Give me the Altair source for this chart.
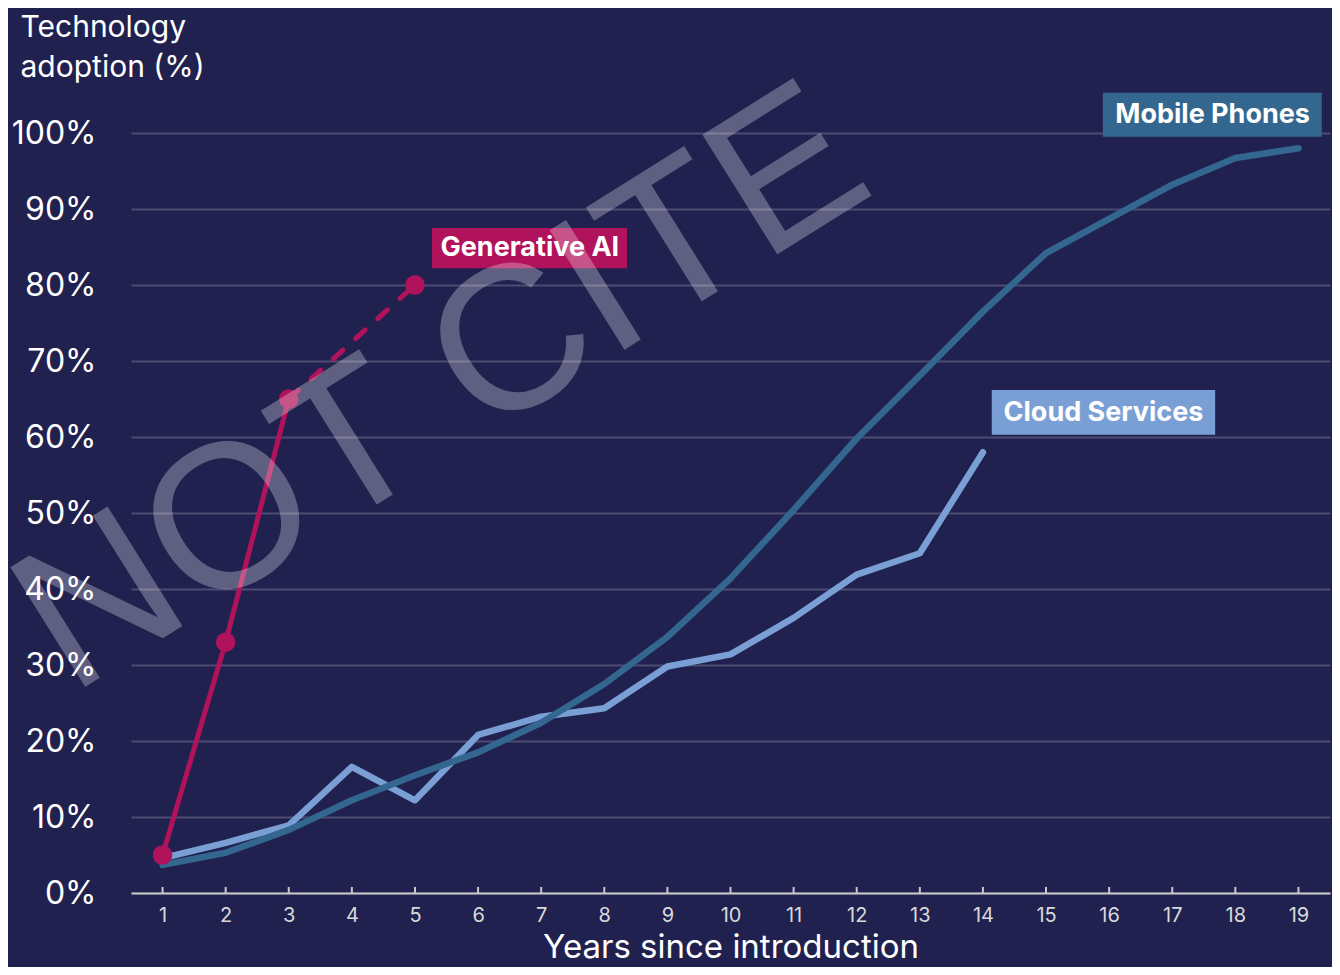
import altair as alt
import pandas as pd

# ---- data ----
years = list(range(1, 20))
mobile_phones = [3.7, 5.3, 8.3, 12.2, 15.5, 18.5, 22.4, 27.5, 33.7, 41.4,
                 50.4, 59.8, 68.1, 76.5, 84.2, 88.7, 93.2, 96.7, 98.0]
cloud_years = list(range(1, 15))
cloud_services = [4.6, 6.6, 8.9, 16.6, 12.2, 20.8, 23.2, 24.3, 29.8, 31.4,
                  36.2, 41.9, 44.7, 58.0]
genai_years = [1, 2, 3]
genai_values = [5.0, 33.0, 65.0]
genai_proj_years = [3, 5]
genai_proj_values = [65.0, 80.0]
genai_point_years = [1, 2, 3, 5]
genai_point_values = [5.0, 33.0, 65.0, 80.0]

label_names = ["Generative AI", "Mobile Phones", "Cloud Services"]
y_tick_values = [0, 10, 20, 30, 40, 50, 60, 70, 80, 90, 100]

# ---- styling ----
BG = "#212150"
C_MOBILE = "#33678F"
C_CLOUD = "#7A9FD5"
C_GENAI = "#B0125B"
FONT = "Inter"

mobile_df = pd.DataFrame({"year": years, "value": mobile_phones})
cloud_df = pd.DataFrame({"year": cloud_years, "value": cloud_services})
genai_df = pd.DataFrame({"year": genai_years, "value": genai_values})
genai_proj_df = pd.DataFrame({"year": genai_proj_years, "value": genai_proj_values})
genai_pts_df = pd.DataFrame({"year": genai_point_years, "value": genai_point_values})
ticks_df = pd.DataFrame({"year": years})

# annotation boxes (data units)
labels_df = pd.DataFrame({
    "label": label_names,
    "x": [5.27, 15.90, 14.14],
    "x2": [8.36, 19.37, 17.68],
    "y": [82.2, 99.5, 60.3],
    "y2": [87.5, 105.3, 66.2],
    "xc": [6.82, 17.64, 15.91],
    "yc": [84.9, 102.4, 63.2],
    "color": [C_GENAI, C_MOBILE, C_CLOUD],
})

xscale = alt.Scale(domain=[0.5, 19.5], nice=False, zero=False)
yscale = alt.Scale(domain=[0, 100], nice=False)

x_axis = alt.Axis(
    values=years, format="d", title="Years since introduction", grid=False,
    ticks=False, domain=True, domainColor="#C8C8C8", domainWidth=2,
    labelColor="#D9D9D9", labelFontSize=20, labelFont=FONT, labelPadding=12,
    titleColor="#FFFFFF", titleFontSize=33, titleFont=FONT, titleFontWeight="normal",
    titlePadding=6,
)
y_axis = alt.Axis(
    values=y_tick_values, labelExpr="datum.value + '%'", grid=True,
    gridColor="#FFFFFF", gridOpacity=0.2, gridWidth=2,
    ticks=False, domain=False,
    labelColor="#FFFFFF", labelFontSize=32, labelFont=FONT, labelPadding=35,
    title=["Technology", "adoption (%)"], titleAngle=0, titleAlign="left",
    titleBaseline="top", titleX=-111, titleY=-121, titleLineHeight=40,
    titleColor="#FFFFFF", titleFontSize=30, titleFont=FONT, titleFontWeight="normal",
)

X = alt.X("year:Q", scale=xscale, axis=x_axis)
Y = alt.Y("value:Q", scale=yscale, axis=y_axis)
Xn = alt.X("year:Q", scale=xscale)
Yn = alt.Y("value:Q", scale=yscale)

base_axes = alt.Chart(mobile_df).mark_line(opacity=0).encode(x=X, y=Y)

tick_rules = alt.Chart(ticks_df).mark_rule(color="#C8C8C8", strokeWidth=2).encode(
    x=Xn, y=alt.value(754), y2=alt.value(760)
)

cloud_line = alt.Chart(cloud_df).mark_line(
    color=C_CLOUD, strokeWidth=6.5, strokeCap="round", strokeJoin="round"
).encode(x=Xn, y=Yn)

mobile_line = alt.Chart(mobile_df).mark_line(
    color=C_MOBILE, strokeWidth=6.5, strokeCap="round", strokeJoin="round"
).encode(x=Xn, y=Yn)

genai_line = alt.Chart(genai_df).mark_line(
    color=C_GENAI, strokeWidth=5, strokeCap="round"
).encode(x=Xn, y=Yn)

genai_proj = alt.Chart(genai_proj_df).mark_line(
    color=C_GENAI, strokeWidth=5, strokeCap="round", strokeDash=[13, 17]
).encode(x=Xn, y=Yn)

genai_pts = alt.Chart(genai_pts_df).mark_point(
    filled=True, color=C_GENAI, size=380, opacity=1
).encode(x=Xn, y=Yn)

label_boxes = alt.Chart(labels_df).mark_rect().encode(
    x=alt.X("x:Q", scale=xscale), x2="x2:Q",
    y=alt.Y("y:Q", scale=yscale), y2="y2:Q",
    color=alt.Color("color:N", scale=None),
)
label_text = alt.Chart(labels_df).mark_text(
    color="#FFFFFF", fontSize=27, fontWeight="bold", font=FONT,
    align="center", baseline="middle"
).encode(
    x=alt.X("xc:Q", scale=xscale), y=alt.Y("yc:Q", scale=yscale), text="label:N"
)

watermark_df = pd.DataFrame({"xc": [5.43], "yc": [66.1], "t": ["NOT CITE"]})
watermark = alt.Chart(watermark_df).mark_text(
    color="#FFFFFF", opacity=0.28, fontSize=205, font="Liberation Sans",
    align="center", baseline="middle", angle=328
).encode(
    x=alt.X("xc:Q", scale=xscale), y=alt.Y("yc:Q", scale=yscale), text="t:N"
)

chart = alt.layer(
    base_axes, tick_rules, cloud_line, mobile_line, genai_line, genai_proj,
    genai_pts, label_boxes, label_text, watermark
).properties(
    width=1199, height=760,
    padding={"left": 123, "top": 125, "right": 2, "bottom": 74},
    autosize=alt.AutoSizeParams(type="none"),
    background=BG,
).configure_view(stroke=None)

chart.save("out.html", embed_options={"renderer": "svg", "actions": False})
